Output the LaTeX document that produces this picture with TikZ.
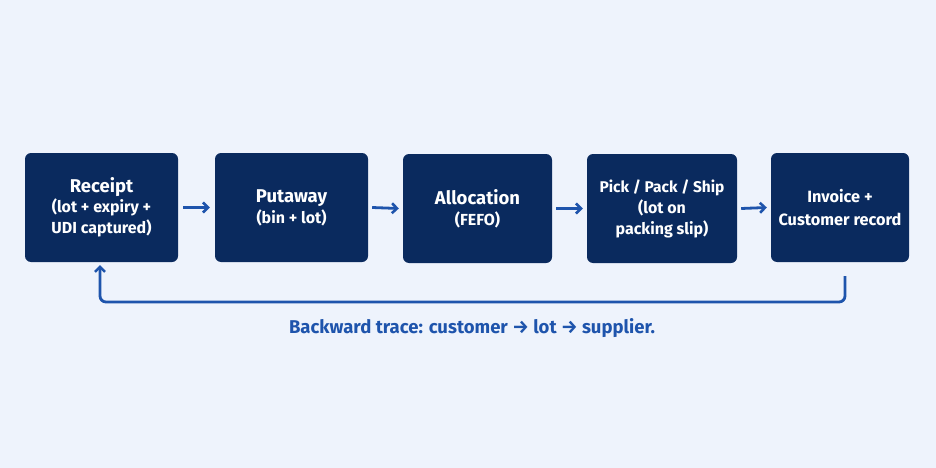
\documentclass[tikz,border=0pt]{standalone}
\usepackage{fontspec}
\setmainfont{Fira Sans}
\usetikzlibrary{arrows.meta}
\definecolor{bg}{HTML}{EEF3FC}
\definecolor{navy}{HTML}{0A2A5E}
\definecolor{arr}{HTML}{1E54AC}
\tikzset{
  stepbox/.style={fill=navy, rounded corners=6pt, inner sep=0pt, text=white, align=center, font=\bfseries\fontsize{16}{21}\selectfont},
  flow/.style={draw=arr, line width=2.8pt, -{Straight Barb[length=5pt,width=10pt,line width=2.6pt]}},
}
\newcommand{\ttl}[1]{{\fontsize{18.5}{26}\selectfont #1}}
\begin{document}
\begin{tikzpicture}[x=1pt,y=-1pt]
\fill[bg] (0,0) rectangle (936,468);
\useasboundingbox (0,0) rectangle (936,468);
\node[stepbox, minimum width=153pt, minimum height=109pt] (r) at (101.5,207.5) {\ttl{Receipt}\\[-1pt](lot + expiry +\\UDI captured)};
\node[stepbox, minimum width=153pt, minimum height=109pt] (p) at (291.5,207.5) {\ttl{Putaway}\\(bin + lot)};
\node[stepbox, minimum width=149pt, minimum height=109pt] (a) at (477.5,208.5) {\ttl{Allocation}\\(FEFO)};
\node[stepbox, minimum width=150pt, minimum height=109pt] (k) at (662,208.5) {{\fontsize{15.5}{21}\selectfont Pick / Pack / Ship}\\(lot on\\packing slip)};
\node[stepbox, minimum width=138pt, minimum height=109pt, font=\bfseries\fontsize{16.3}{23}\selectfont] (i) at (840,207.5) {Invoice +\\Customer record};
\draw[flow] ([xshift=5pt]r.east) -- ([xshift=-5pt]p.west);
\draw[flow] ([xshift=4pt]p.east) -- ([xshift=-4pt]a.west);
\draw[flow] ([xshift=4pt]a.east) -- ([xshift=-4pt]k.west);
\draw[flow] ([xshift=4pt]k.east) -- ([xshift=-4pt]i.west);
\coordinate (s) at (845,276);
\coordinate (e) at (100,265);
\draw[flow, rounded corners=6pt] (s) -- (845,302) -- (100,302) -- (e);
\node[text=arr, font=\bfseries\fontsize{18.5}{22}\selectfont] (lbl) at (472,328) {Backward trace: customer → lot → supplier.};
\end{tikzpicture}
\end{document}
